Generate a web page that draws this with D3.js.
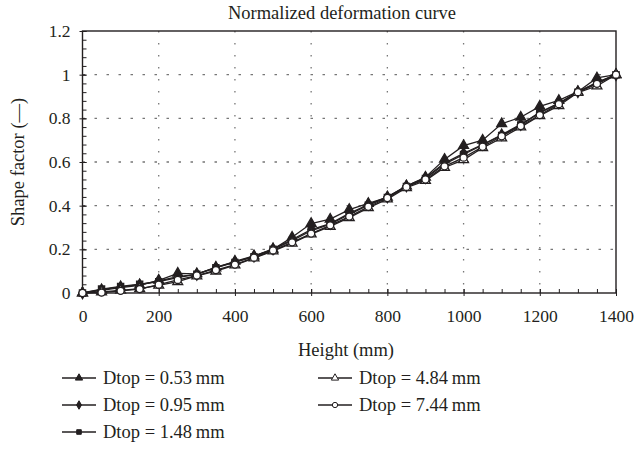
<!DOCTYPE html>
<html><head><meta charset="utf-8">
<script src="https://cdn.jsdelivr.net/npm/d3@7"></script>
<style>body{margin:0;background:#fff}svg{display:block}text{font-family:"Liberation Serif","Times New Roman",serif;fill:#231f20}</style>
</head><body>
<svg id="c" width="644" height="455"></svg>
<script>
const heights = [0,50,100,150,200,250,300,350,400,450,500,550,600,650,700,750,800,850,900,950,1000,1050,1100,1150,1200,1250,1300,1350,1400];
const s053 = [0,.012,.025,.035,.058,.090,.088,.115,.145,.170,.200,.255,.318,.338,.382,.410,.438,.490,.530,.612,.675,.700,.775,.805,.855,.882,.922,.985,1.0];
const s095 = [0,.015,.028,.038,.055,.075,.085,.118,.142,.168,.202,.245,.290,.318,.365,.405,.440,.490,.528,.595,.640,.680,.725,.772,.828,.870,.922,.965,1.0];
const s148 = [0,.018,.030,.040,.052,.070,.086,.116,.140,.166,.200,.240,.285,.315,.360,.402,.438,.488,.525,.590,.635,.678,.722,.770,.825,.868,.920,.962,1.0];
const s484 = [0,.005,.012,.020,.035,.052,.078,.100,.128,.160,.192,.228,.270,.305,.345,.390,.430,.482,.515,.575,.610,.665,.710,.760,.812,.858,.918,.948,1.0];
const s744 = [0,.002,.010,.018,.038,.060,.080,.105,.130,.162,.195,.232,.272,.310,.350,.395,.435,.486,.520,.580,.620,.670,.718,.765,.815,.865,.920,.958,1.0];
const seriesNames = ["Dtop = 0.53\u2009mm","Dtop = 0.95\u2009mm","Dtop = 1.48\u2009mm","Dtop = 4.84\u2009mm","Dtop = 7.44\u2009mm"];
const xTicks = [0,200,400,600,800,1000,1200,1400];
const yTicks = [0,0.2,0.4,0.6,0.8,1.0,1.2];
const title = "Normalized deformation curve";
const xLabel = "Height (mm)";
const yLabel = "Shape factor (\u2014)";

const seriesVals = [s053,s095,s148,s484,s744];
const markers = [
  {type:d3.symbolTriangle, fill:"#231f20", size:42},
  {type:d3.symbolDiamond, fill:"#231f20", size:38},
  {type:d3.symbolSquare, fill:"#231f20", size:38},
  {type:d3.symbolTriangle, fill:"#fff", size:42},
  {type:d3.symbolCircle, fill:"#fff", size:40}
];
const svg = d3.select("#c");
const L=82.5, R=616, T=31, B=293;
const x = d3.scaleLinear().domain([0,1400]).range([L,R]);
const y = d3.scaleLinear().domain([0,1.2]).range([B,T]);
const ink="#231f20";

// grid
const g = svg.append("g");
g.selectAll(".vg").data(xTicks.slice(1,-1)).join("line")
  .attr("x1",d=>x(d)).attr("x2",d=>x(d)).attr("y1",T).attr("y2",B)
  .attr("stroke","#777").attr("stroke-width",1.3).attr("stroke-dasharray","1.5,10.5");
g.selectAll(".hg").data(yTicks.slice(1,-1)).join("line")
  .attr("y1",d=>y(d)).attr("y2",d=>y(d)).attr("x1",L).attr("x2",R)
  .attr("stroke","#777").attr("stroke-width",1.3).attr("stroke-dasharray","2.5,9.5");

// minor ticks
const xMinor = d3.range(0,1401,50);
const yMinor = d3.range(0,1.2001,0.04);
svg.append("g").attr("transform",`translate(0,${B})`)
  .call(d3.axisBottom(x).tickValues(xMinor).tickSize(-4).tickFormat(""))
  .call(a=>{a.select(".domain").remove(); a.selectAll("line").attr("stroke",ink);});
svg.append("g").attr("transform",`translate(${L},0)`)
  .call(d3.axisLeft(y).tickValues(yMinor).tickSize(-4).tickFormat(""))
  .call(a=>{a.select(".domain").remove(); a.selectAll("line").attr("stroke",ink);});

// major axes
const xa = svg.append("g").attr("transform",`translate(0,${B})`)
  .call(d3.axisBottom(x).tickValues(xTicks).tickSize(3).tickPadding(14).tickFormat(d3.format("d")));
xa.select(".domain").remove();
xa.selectAll("line").attr("stroke",ink).attr("y1",-4);
xa.selectAll("text").attr("font-size",17.5).style("font-family","Liberation Serif");
const ya = svg.append("g").attr("transform",`translate(${L},0)`)
  .call(d3.axisLeft(y).tickValues(yTicks).tickSize(3).tickPadding(9).tickFormat(d=>d===0?"0":(d===1?"1":d3.format(".1f")(d))));
ya.select(".domain").remove();
ya.selectAll("line").attr("stroke",ink).attr("x1",4);
ya.selectAll("text").attr("font-size",17.5).style("font-family","Liberation Serif");

// frame
svg.append("rect").attr("x",L).attr("y",T).attr("width",R-L).attr("height",B-T)
  .attr("fill","none").attr("stroke",ink).attr("stroke-width",1.4);

// series
const line = d3.line().x((d,i)=>x(heights[i])).y(d=>y(d));
seriesVals.forEach((vals,k)=>{
  svg.append("path").datum(vals).attr("d",line).attr("fill","none").attr("stroke",ink).attr("stroke-width",1.3);
});
seriesVals.forEach((vals,k)=>{
  const m = markers[k];
  svg.append("g").selectAll("path").data(vals).join("path")
    .attr("transform",(d,i)=>`translate(${x(heights[i])},${y(d)})`)
    .attr("d",d3.symbol().type(m.type).size(m.size))
    .attr("fill",m.fill).attr("stroke",ink).attr("stroke-width",1.3);
});

// titles
svg.append("text").attr("x",342).attr("y",19).attr("text-anchor","middle").attr("font-size",18.5).text(title);
svg.append("text").attr("x",346).attr("y",356).attr("text-anchor","middle").attr("font-size",18.5).text(xLabel);
svg.append("text").attr("transform",`translate(24,${(T+B)/2}) rotate(-90)`).attr("text-anchor","middle").attr("font-size",18.5).text(yLabel);

// legend
const legPos = [[62,378],[62,405],[62,432],[318,378],[318,405]];
seriesNames.forEach((name,k)=>{
  const [lx,ly]=legPos[k];
  const m=markers[k];
  const lg=svg.append("g");
  lg.append("line").attr("x1",lx).attr("x2",lx+34).attr("y1",ly).attr("y2",ly).attr("stroke",ink).attr("stroke-width",1.3);
  lg.append("path").attr("transform",`translate(${lx+17},${ly})`).attr("d",d3.symbol().type(m.type).size(m.size*0.55))
    .attr("fill",m.fill).attr("stroke",ink).attr("stroke-width",1);
  lg.append("text").attr("x",lx+41).attr("y",ly).attr("dy","0.35em").attr("font-size",18.5).text(name);
});
</script>
</body></html>
